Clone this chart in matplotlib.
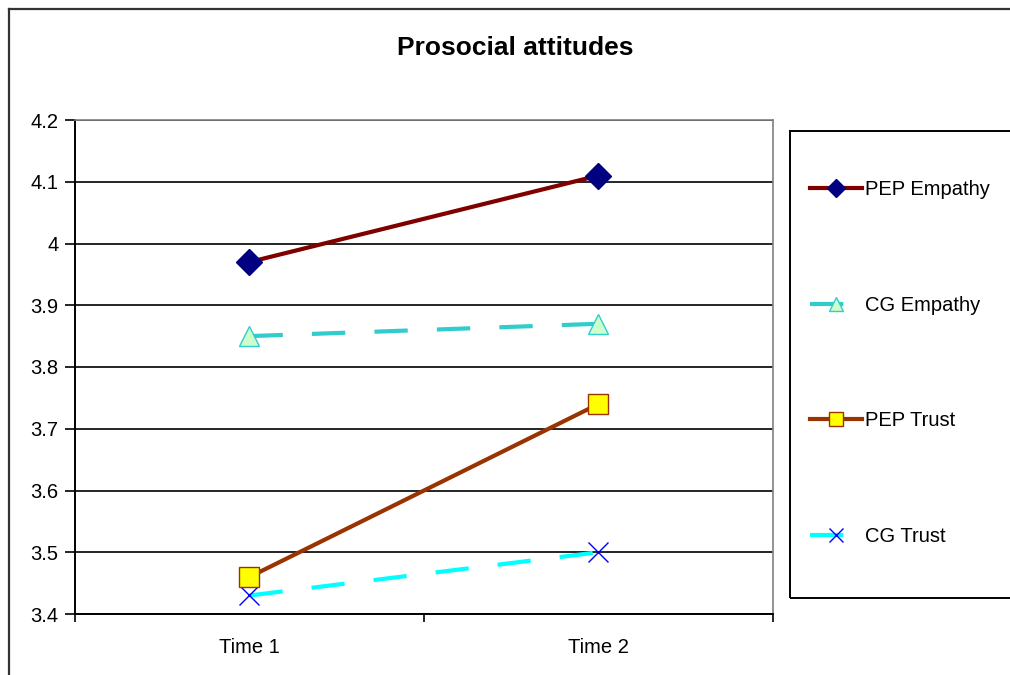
import matplotlib
matplotlib.use('Agg')
import matplotlib.pyplot as plt
from matplotlib.lines import Line2D
from matplotlib.patches import Rectangle

plt.rcParams['font.family'] = ['Liberation Sans', 'DejaVu Sans']

# data
times = ['Time 1', 'Time 2']
pep_empathy = [3.97, 4.11]
cg_empathy = [3.85, 3.87]
pep_trust = [3.46, 3.74]
cg_trust = [3.43, 3.50]
yticks = [3.4, 3.5, 3.6, 3.7, 3.8, 3.9, 4.0, 4.1, 4.2]
ytick_labels = ['3.4', '3.5', '3.6', '3.7', '3.8', '3.9', '4', '4.1', '4.2']

W, H = 1010, 675
fig = plt.figure(figsize=(W / 100, H / 100), dpi=100)

# plot area in pixels: x 75..773, y 120..614
ax = fig.add_axes([75 / W, 1 - 614 / H, (773 - 75) / W, (614 - 120) / H])

x = list(range(len(times)))

ax.plot(x, pep_empathy, color='#800000', lw=3, marker='D', ms=13,
        mfc='#000080', mec='#000080', label='PEP Empathy', zorder=4)
ax.plot(x, cg_empathy, color='#33CCCC', lw=3, dashes=(8, 7), marker='^', ms=14,
        mfc='#CCFFCC', mec='#33CCCC', mew=1, label='CG Empathy', zorder=3)
ax.plot(x, pep_trust, color='#993300', lw=3, marker='s', ms=15,
        mfc='#FFFF00', mec='#993300', mew=1, label='PEP Trust', zorder=4)
ax.plot(x, cg_trust, color='#00FFFF', lw=3, dashes=(8, 7), marker='x', ms=14,
        mec='#0000FF', mew=1, label='CG Trust', zorder=3)

ax.set_xlim(-0.5, 1.5)
ax.set_ylim(3.4, 4.2)
ax.set_yticks(yticks)
ax.set_yticklabels(ytick_labels)
ax.set_xticks(x)
ax.set_xticklabels(times)
ax.set_xticks([-0.5, 0.5, 1.5], minor=True)
ax.tick_params(axis='x', which='major', length=0, pad=17, labelsize=14.5)
ax.tick_params(axis='x', which='minor', length=6, width=1.2, direction='out')
ax.tick_params(axis='y', length=7, width=1.2, direction='out', pad=5, labelsize=14.5)

ax.set_axisbelow(True)
ax.yaxis.grid(True, color='black', lw=1.2)
for s in ['left', 'bottom']:
    ax.spines[s].set_color('black')
    ax.spines[s].set_linewidth(1.4)
for s in ['top', 'right']:
    ax.spines[s].set_color('#808080')
    ax.spines[s].set_linewidth(1.2)

fig.text(515 / W, 1 - 48 / H, 'Prosocial attitudes', ha='center', va='center',
         fontsize=19, fontweight='bold')

# outer chart border (top and left visible)
fig.add_artist(Line2D([9 / W, 1], [1 - 9 / H, 1 - 9 / H], color='#333333', lw=1.6,
                      transform=fig.transFigure))
fig.add_artist(Line2D([9 / W, 9 / W], [0, 1 - 9 / H], color='#333333', lw=1.6,
                      transform=fig.transFigure))

# legend box
fig.add_artist(Rectangle((790 / W, 1 - 598 / H), 240 / W, (598 - 131) / H, fill=False,
                         edgecolor='black', lw=1.4, transform=fig.transFigure))
leg = fig.legend(loc='upper left', bbox_to_anchor=(810 / W, 1 - 180 / H),
                 borderaxespad=0, borderpad=0, fontsize=14.5, frameon=False,
                 handlelength=2.6, handletextpad=0.15, labelspacing=4.8,
                 markerscale=0.7)

fig.savefig('out.png', dpi=100)
